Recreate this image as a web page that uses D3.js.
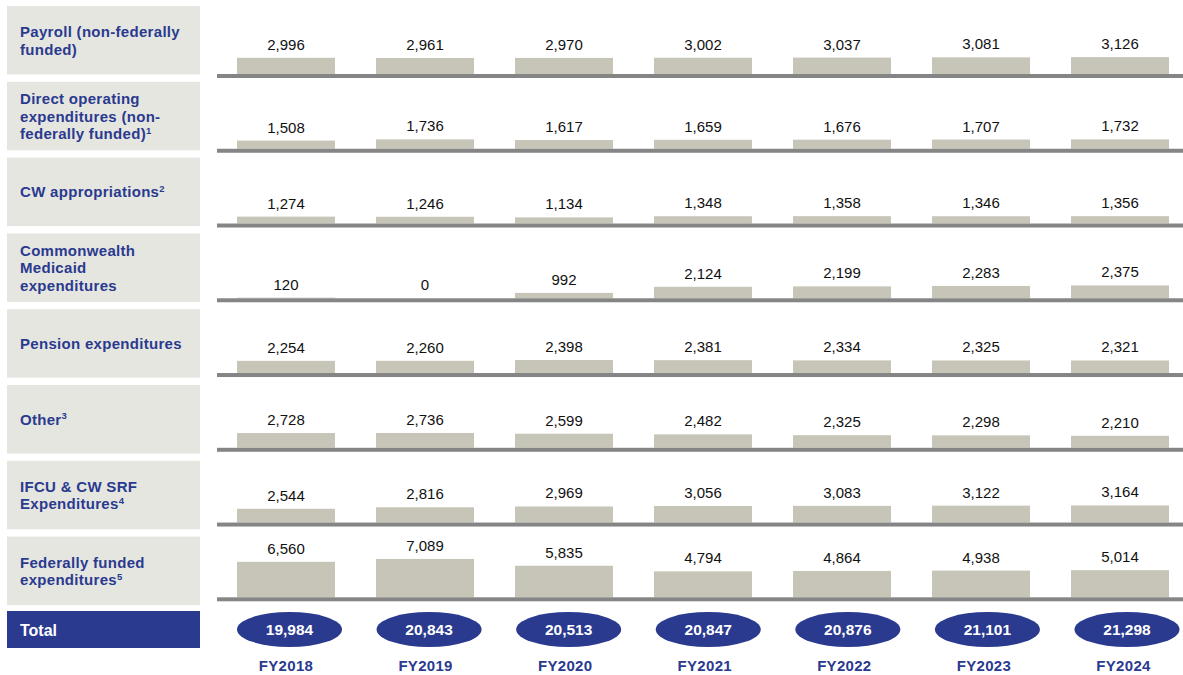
<!DOCTYPE html>
<html>
<head>
<meta charset="utf-8">
<script src="https://cdn.jsdelivr.net/npm/d3@7"></script>
<style>
  body { margin: 0; background: #fff; }
  svg { display: block; font-family: Arial, "Liberation Sans", sans-serif; }
</style>
</head>
<body>
<svg id="chart" width="1183" height="675"></svg>
<script>
// data
let years = ['FY2018', 'FY2019', 'FY2020', 'FY2021', 'FY2022', 'FY2023', 'FY2024'];
let row_labels = [
    ['Payroll (non-federally', 'funded)'],
    ['Direct operating', 'expenditures (non-', 'federally funded)'],
    ['CW appropriations'],
    ['Commonwealth', 'Medicaid', 'expenditures'],
    ['Pension expenditures'],
    ['Other'],
    ['IFCU & CW SRF', 'Expenditures'],
    ['Federally funded', 'expenditures']
];
let footnotes = ['', '1', '2', '', '', '3', '4', '5'];
let payroll = [2996, 2961, 2970, 3002, 3037, 3081, 3126];
let direct_operating = [1508, 1736, 1617, 1659, 1676, 1707, 1732];
let cw_appropriations = [1274, 1246, 1134, 1348, 1358, 1346, 1356];
let medicaid = [120, 0, 992, 2124, 2199, 2283, 2375];
let pension = [2254, 2260, 2398, 2381, 2334, 2325, 2321];
let other = [2728, 2736, 2599, 2482, 2325, 2298, 2210];
let ifcu_srf = [2544, 2816, 2969, 3056, 3083, 3122, 3164];
let federally_funded = [6560, 7089, 5835, 4794, 4864, 4938, 5014];
let totals = [19984, 20843, 20513, 20847, 20876, 21101, 21298];

let series = [payroll, direct_operating, cw_appropriations, medicaid, pension, other, ifcu_srf, federally_funded];

let BLUE = '#2a3a8f';
let BOX_GREY = '#e6e6e1';
let BAR_FILL = '#c7c5b8';
let LINE_GREY = '#858585';

let svg = d3.select('#chart');
let rows = d3.range(series.length);

// scales
let box_y = d3.scaleBand().domain(rows).range([6, 605.1]).paddingInner(0.096);
let base_y = d3.scaleLinear().domain([0, rows.length - 1]).range([74, 597.3]);
let xScale = d3.scaleBand().domain(years).range([216.5, 1189.5]).paddingInner(0.295).paddingOuter(0.1475);
let total_x = d3.scalePoint().domain(years).range([289.5, 1127]);
let hScale = d3.scaleLinear().domain([0, 1000]).range([0, 5.41]);

// left label boxes
let lab = svg.append('g').attr('id', 'labels');
lab.selectAll('rect')
    .data(rows)
    .join('rect')
    .attr('x', 7)
    .attr('y', d => box_y(d))
    .attr('width', 193)
    .attr('height', box_y.bandwidth())
    .attr('fill', BOX_GREY);

let LH = 17.5;
rows.forEach(i => {
    let lines = row_labels[i];
    let cy = box_y(i) + box_y.bandwidth() / 2;
    let y0 = cy - (lines.length - 1) * LH / 2 + 5.5;
    let t = lab.append('text')
        .attr('x', 20)
        .attr('y', y0)
        .attr('fill', BLUE)
        .attr('font-weight', 'bold')
        .attr('font-size', 15)
        .attr('letter-spacing', 0.3);
    lines.forEach((ln, k) => {
        let ts = t.append('tspan').attr('x', 20).attr('y', y0 + k * LH).text(ln);
    });
    if (footnotes[i] != '') {
        t.append('tspan')
            .attr('font-size', 9.5)
            .attr('dy', -5.5)
            .text(footnotes[i]);
    }
});

// bars, baselines, value labels
let rowg = svg.append('g').attr('id', 'rows')
    .selectAll('g')
    .data(rows)
    .join('g');

rowg.selectAll('rect.bar')
    .data(i => series[i].map((v, j) => ({row: i, year: years[j], value: v})))
    .join('rect')
    .attr('class', 'bar')
    .attr('x', d => xScale(d.year))
    .attr('y', d => base_y(d.row) - hScale(d.value))
    .attr('width', xScale.bandwidth())
    .attr('height', d => hScale(d.value))
    .attr('fill', BAR_FILL);

rowg.append('rect')
    .attr('x', 217)
    .attr('y', i => base_y(i))
    .attr('width', 1183 - 217)
    .attr('height', 4)
    .attr('fill', LINE_GREY);

rowg.selectAll('text.val')
    .data(i => series[i].map((v, j) => ({row: i, year: years[j], value: v})))
    .join('text')
    .attr('class', 'val')
    .attr('x', d => xScale(d.year) + xScale.bandwidth() / 2)
    .attr('y', d => base_y(d.row) - hScale(d.value) - 8)
    .attr('text-anchor', 'middle')
    .attr('font-size', 15)
    .attr('fill', '#111')
    .text(d => d3.format(',')(d.value));

// total row
let tot = svg.append('g').attr('id', 'total');
tot.append('rect')
    .attr('x', 7)
    .attr('y', 611)
    .attr('width', 193)
    .attr('height', 37)
    .attr('fill', BLUE);
tot.append('text')
    .attr('x', 20)
    .attr('y', 636)
    .attr('fill', '#fff')
    .attr('font-weight', 'bold')
    .attr('font-size', 16)
    .text('Total');

tot.selectAll('ellipse')
    .data(totals)
    .join('ellipse')
    .attr('cx', (d, j) => total_x(years[j]))
    .attr('cy', 629.5)
    .attr('rx', 52.5)
    .attr('ry', 17.5)
    .attr('fill', BLUE);

tot.selectAll('text.tot')
    .data(totals)
    .join('text')
    .attr('class', 'tot')
    .attr('x', (d, j) => total_x(years[j]))
    .attr('y', 635)
    .attr('text-anchor', 'middle')
    .attr('fill', '#fff')
    .attr('font-weight', 'bold')
    .attr('font-size', 15.5)
    .text(d => d3.format(',')(d));

// year labels
svg.append('g').attr('id', 'years')
    .selectAll('text')
    .data(years)
    .join('text')
    .attr('x', d => total_x(d) - 3.5)
    .attr('y', 671)
    .attr('text-anchor', 'middle')
    .attr('fill', BLUE)
    .attr('font-weight', 'bold')
    .attr('font-size', 15)
    .attr('letter-spacing', 0.3)
    .text(d => d);
</script>
</body>
</html>
